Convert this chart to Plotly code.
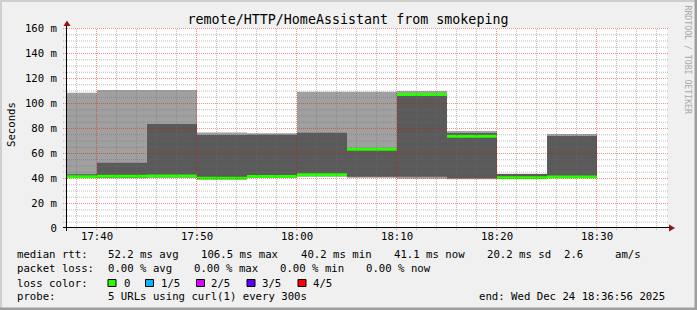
import plotly.graph_objects as go
import pandas as pd

# ---------------- data ----------------
interval_start = ["2025-12-24 17:35", "2025-12-24 17:40", "2025-12-24 17:45", "2025-12-24 17:50",
                  "2025-12-24 17:55", "2025-12-24 18:00", "2025-12-24 18:05", "2025-12-24 18:10",
                  "2025-12-24 18:15", "2025-12-24 18:20", "2025-12-24 18:25"]
ping_min   = [40.0, 39.9, 40.2, 38.8, 40.3, 41.0, 40.3, 39.5, 39.0, 39.5, 40.1]
ping_low   = [40.4, 40.1, 40.6, 39.2, 40.6, 41.8, 41.1, 41.0, 39.8, 39.8, 40.4]
rtt_median = [41.0, 41.5, 41.6, 39.8, 41.3, 42.6, 63.0, 106.8, 73.4, 40.2, 40.8]
ping_high  = [43.0, 52.2, 83.2, 74.4, 74.6, 76.3, 64.0, 107.6, 76.0, 43.2, 73.6]
ping_max   = [108.3, 110.4, 110.4, 76.4, 75.8, 109.0, 109.0, 109.6, 77.6, 43.4, 75.2]

y_tick_vals = [0, 20, 40, 60, 80, 100, 120, 140, 160]
y_tick_text = ["0", "20 m", "40 m", "60 m", "80 m", "100 m", "120 m", "140 m", "160 m"]
x_range = ["2025-12-24 17:37:00", "2025-12-24 18:37:00"]

loss_labels = ["0", "1/5", "2/5", "3/5", "4/5"]
loss_colors = ["#26ff00", "#00b8ff", "#dd00ff", "#5e00ff", "#ff0000"]

title_text = "remote/HTTP/HomeAssistant from smokeping"
legend_rows = [
    [("median rtt:", 16), ("52.2 ms avg", 107), ("106.5 ms max", 200), ("40.2 ms min", 300),
     ("41.1 ms now", 393), ("20.2 ms sd", 486), ("2.6", 563), ("am/s", 614)],
    [("packet loss:", 16), ("0.00 % avg", 107), ("0.00 % max", 193), ("0.00 % min", 279),
     ("0.00 % now", 365.5)],
    [("loss color:", 16)],
    [("probe:", 16), ("5 URLs using curl(1) every 300s", 107), ("end: Wed Dec 24 18:36:56 2025", 478)],
]
legend_row_y = [254.5, 268, 283, 296.5]
loss_box_x = [108, 145.5, 196.5, 247, 298]
loss_text_x = [123, 160, 210.5, 261.5, 312.5]

# ---------------- geometry ----------------
W, H = 697, 310
L, T, PW, PH = 67, 28, 600, 200
R, B = W - L - PW, H - T - PH

def px(x):
    return (x - L) / PW

def py(y):
    return (T + PH - y) / PH

MONO = "DejaVu Sans Mono"
FS = 10.67
STEP_MS = 5 * 60 * 1000
LINE_W = 2.4  # thickness of median line in data units (~3 px)

light_grey = "#a0a0a0"
dark_grey = "#5a5a5a"

x0 = pd.to_datetime(interval_start)

fig = go.Figure()
fig.add_trace(go.Bar(x=x0, y=[b - a for a, b in zip(ping_min, ping_max)], base=ping_min,
                     width=STEP_MS, offset=0, marker=dict(color=light_grey, line=dict(width=0)),
                     hoverinfo="skip"))
fig.add_trace(go.Bar(x=x0, y=[b - a for a, b in zip(ping_low, ping_high)], base=ping_low,
                     width=STEP_MS, offset=0, marker=dict(color=dark_grey, line=dict(width=0)),
                     hoverinfo="skip"))
fig.add_trace(go.Bar(x=x0, y=[LINE_W] * len(rtt_median), base=[m - LINE_W / 2 for m in rtt_median],
                     width=STEP_MS, offset=0, marker=dict(color=loss_colors[0], line=dict(width=0)),
                     hoverinfo="skip"))

shapes = []
# grid (drawn above the smoke like rrdtool); offset half a pixel so dots stay crisp
major_c = "rgba(255,0,0,0.45)"
minor_c = "rgba(110,110,110,0.45)"
half_px_y = 0.5 * 160 / PH
half_px_x = pd.Timedelta(seconds=0.5 * 3600 / PW)
for v in range(5, 161, 5):
    yy = v - half_px_y
    shapes.append(dict(type="line", xref="paper", yref="y", x0=px(63), x1=px(668), y0=yy, y1=yy,
                       layer="above",
                       line=dict(color=major_c if v % 20 == 0 else minor_c, width=1, dash="1px,1px")))
xt = pd.date_range("2025-12-24 17:38", "2025-12-24 18:36", freq="2min")
for t in xt:
    major = (t.minute % 10 == 0)
    tt = t - half_px_x
    shapes.append(dict(type="line", xref="x", yref="paper", x0=tt, x1=tt, y0=py(230), y1=py(28),
                       layer="above",
                       line=dict(color=major_c if major else minor_c, width=1, dash="1px,1px")))
# axes
shapes.append(dict(type="line", xref="paper", yref="paper", x0=px(63), x1=px(670), y0=py(227.5), y1=py(227.5),
                   layer="above", line=dict(color="black", width=1)))
shapes.append(dict(type="line", xref="paper", yref="paper", x0=px(66.5), x1=px(66.5), y0=py(231), y1=py(25),
                   layer="above", line=dict(color="black", width=1)))
arrow_c = "#8f1515"
shapes.append(dict(type="path", xref="paper", yref="paper", layer="above",
                   path=f"M {px(669)} {py(224.5)} L {px(675)} {py(228)} L {px(669)} {py(231.5)} Z",
                   fillcolor=arrow_c, line=dict(width=0)))
shapes.append(dict(type="path", xref="paper", yref="paper", layer="above",
                   path=f"M {px(63.5)} {py(26)} L {px(67)} {py(20.5)} L {px(70.5)} {py(26)} Z",
                   fillcolor=arrow_c, line=dict(width=0)))
# frame
shapes.append(dict(type="rect", xref="paper", yref="paper", x0=px(0), x1=px(W), y0=py(0), y1=py(2),
                   fillcolor="#cfcfcf", line=dict(width=0), layer="above"))
shapes.append(dict(type="rect", xref="paper", yref="paper", x0=px(0), x1=px(2), y0=py(0), y1=py(H),
                   fillcolor="#cfcfcf", line=dict(width=0), layer="above"))
shapes.append(dict(type="rect", xref="paper", yref="paper", x0=px(0), x1=px(W), y0=py(H - 2.5), y1=py(H),
                   fillcolor="#9e9e9e", line=dict(width=0), layer="above"))
shapes.append(dict(type="rect", xref="paper", yref="paper", x0=px(W - 2.5), x1=px(W), y0=py(0), y1=py(H),
                   fillcolor="#9e9e9e", line=dict(width=0), layer="above"))
# loss colour boxes
for bx, c in zip(loss_box_x, loss_colors):
    shapes.append(dict(type="rect", xref="paper", yref="paper", x0=px(bx), x1=px(bx + 8),
                       y0=py(legend_row_y[2] + 3.5), y1=py(legend_row_y[2] - 3.5),
                       fillcolor=c, line=dict(color="black", width=1), layer="above"))

annotations = []
for row, yy in zip(legend_rows, legend_row_y):
    for txt, xx in row:
        annotations.append(dict(text=txt, x=px(xx - 0.5), y=py(yy), xref="paper", yref="paper",
                                xanchor="left", yanchor="middle", showarrow=False, borderpad=0,
                                font=dict(family=MONO, size=FS, color="black")))
for lbl, xx in zip(loss_labels, loss_text_x):
    annotations.append(dict(text=lbl, x=px(xx - 0.5), y=py(legend_row_y[2]), xref="paper", yref="paper",
                            xanchor="left", yanchor="middle", showarrow=False, borderpad=0,
                            font=dict(family=MONO, size=FS, color="black")))
annotations.append(dict(text="Seconds", x=px(11), y=py(125), xref="paper", yref="paper", textangle=-90,
                        xanchor="center", yanchor="middle", showarrow=False, borderpad=0,
                        font=dict(family=MONO, size=FS, color="black")))
annotations.append(dict(text="RRDTOOL / TOBI OETIKER", x=px(687.5), y=py(60), xref="paper", yref="paper",
                        textangle=90, xanchor="center", yanchor="middle", showarrow=False, borderpad=0,
                        font=dict(family=MONO, size=8.2, color="#a8a8a8")))

fig.update_layout(
    width=W, height=H,
    margin=dict(l=L, r=R, t=T, b=B, pad=0),
    paper_bgcolor="#f0f0f0", plot_bgcolor="#ffffff",
    barmode="overlay", showlegend=False,
    title=dict(text=title_text, x=348 / W, xref="container", xanchor="center",
               y=1 - 19.5 / H, yref="container", yanchor="middle",
               font=dict(family=MONO, size=13.33, color="black")),
    xaxis=dict(type="date", range=x_range, showgrid=False, zeroline=False, showline=False,
               tickformat="%H:%M", dtick=600000, tick0="2025-12-24 17:40:00",
               ticks="", tickfont=dict(family=MONO, size=FS, color="black")),
    yaxis=dict(range=[0, 160], showgrid=False, zeroline=False, showline=False,
               tickvals=y_tick_vals, ticktext=y_tick_text, ticks="", ticklabelstandoff=9,
               tickfont=dict(family=MONO, size=FS, color="black")),
    shapes=shapes, annotations=annotations,
)

fig.write_html("out.html")
